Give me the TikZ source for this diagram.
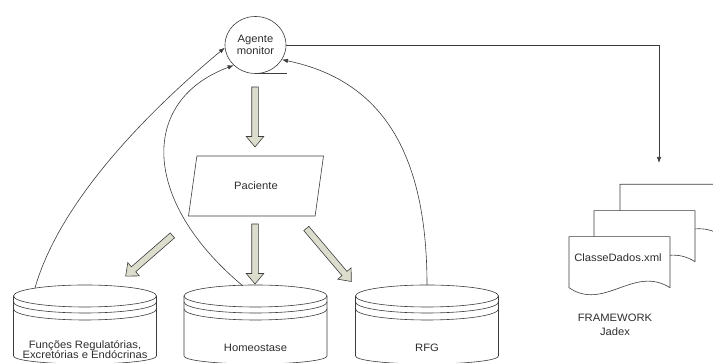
\documentclass[tikz,border=0pt]{standalone}
\usepackage{fontspec}
\setmainfont{Liberation Sans}[FakeStretch=1.05]
\usetikzlibrary{shapes.geometric, shapes.arrows}
\usetikzlibrary{arrows.meta}
\definecolor{linegray}{RGB}{60,60,60}
\definecolor{txtgray}{RGB}{45,45,45}
\definecolor{blockfill}{RGB}{221,221,206}
\tikzset{>={Latex[width=4.5pt,length=6pt]}}
\tikzset{
  lbl/.style={font=\fontsize{10.7}{11}\selectfont, text=txtgray, align=center},
  agent/.style={ellipse, draw, minimum width=61pt, minimum height=57pt, inner sep=0pt, lbl, font=\fontsize{10.7}{12.7}\selectfont},
  inputbox/.style={trapezium, trapezium left angle=60, trapezium right angle=120, trapezium stretches body,
    draw, minimum width=135pt, minimum height=60pt, lbl},
  blockarrow/.style={single arrow, draw, fill=blockfill, inner sep=3pt, single arrow head extend=5.5pt,
    single arrow tip angle=80, anchor=center},
  dbcyl/.pic={
    \draw[fill=white] (-71.5,0) -- (-71.5,-60) arc[start angle=180, end angle=360, x radius=71.5, y radius=8] -- (71.5,0);
    \draw (0,0) ellipse [x radius=71.5, y radius=11];
    \draw (-71.5,-6) arc[start angle=180, end angle=360, x radius=71.5, y radius=11];
    \draw (-71.5,-13) arc[start angle=180, end angle=360, x radius=71.5, y radius=11];
  },
  docpage/.pic={
    \draw[fill=white] (0,0) -- (101,0) -- (101,-51) .. controls (65,-28) and (35,-75) .. (0,-51) -- cycle;
  }
}

\begin{document}
\begin{tikzpicture}[x=1pt, y=1pt, line width=0.6pt, color=linegray]
  \useasboundingbox (0,0) rectangle (713,363);

  \node[agent] (mon) at (255.5,318) {Agente\\monitor};
  \node[inputbox] (pac) at (256,177) {Paciente};

  \pic at (85,67) {dbcyl};
  \pic at (255.5,67) {dbcyl};
  \pic at (427,67) {dbcyl};
  \node[lbl, font=\fontsize{10.7}{10.7}\selectfont] (fre) at (85,13.5) {Funções Regulatórias,\\Excretórias e Endócrinas};
  \node[lbl] (hom) at (255.5,15) {Homeostase};
  \node[lbl] (rfg) at (427,15) {RFG};
  \coordinate (fretop) at (35,75);
  \coordinate (homtop) at (243,77);
  \coordinate (rfgtop) at (427,78);

  \pic at (620,178.7) {docpage};
  \pic at (594,152.3) {docpage};
  \pic at (569,126.3) {docpage};
  \node[lbl] (xml) at (618,105) {ClasseDados.xml};
  \node[lbl, font=\fontsize{10.7}{14}\selectfont] (jadex) at (615,38) {FRAMEWORK\\Jadex};
  \coordinate (jdx) at (659,200);

  \node[blockarrow, minimum height=60pt, rotate=-90] (a1) at (255,248) {};
  \node[blockarrow, minimum height=60pt, rotate=-90] (a2) at (255,111) {};
  \node[blockarrow, minimum height=62pt, rotate=221.1] (a3) at (150.5,108.5) {};
  \node[blockarrow, minimum height=69.5pt, rotate=-49.7] (a4) at (327.5,109.5) {};

  \draw[->] (fretop) .. controls (60,163) and (150,253) .. (mon.185);
  \draw[->] (homtop) .. controls (140,163) and (140,263) .. (mon.223);
  \draw[->] (rfgtop) .. controls (427,213) and (380,283) .. (mon.331);
  \draw[->] (mon.east) -| (jdx);
  \draw (mon.south) -- ++(31,0);
\end{tikzpicture}
\end{document}
